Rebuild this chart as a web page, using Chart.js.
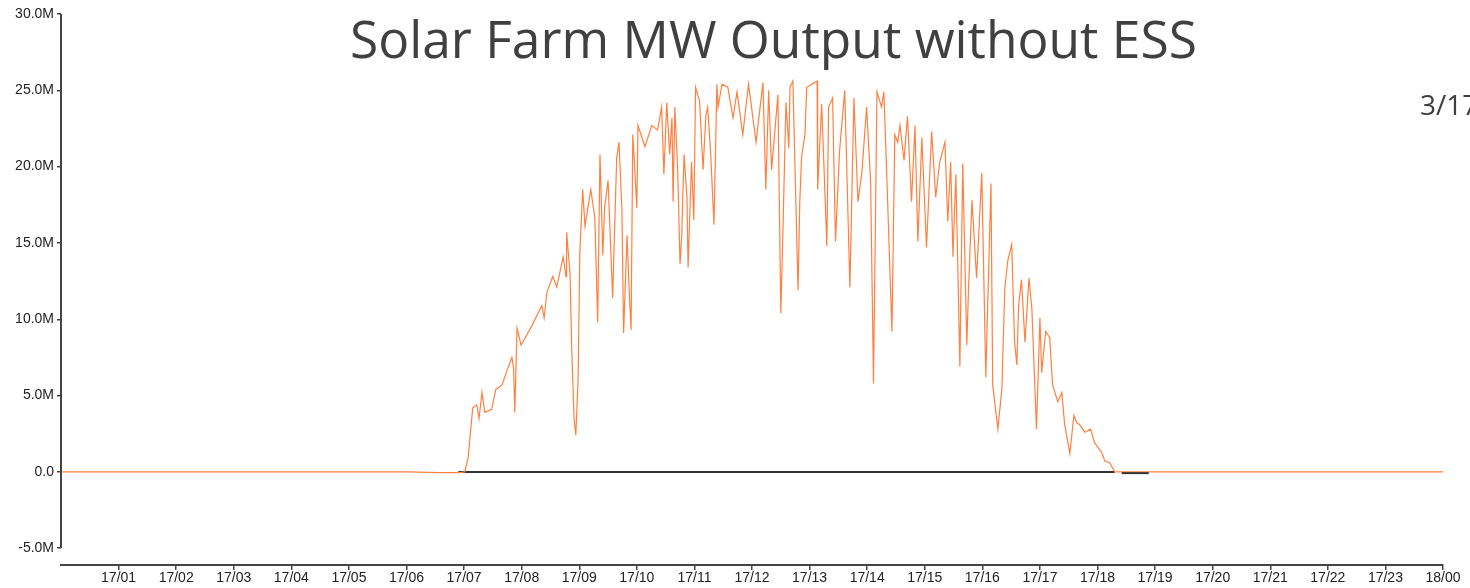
<!DOCTYPE html>
<html>
<head>
<meta charset="utf-8">
<script src="https://cdn.jsdelivr.net/npm/chart.js@4"></script>
<style>
  body { margin: 0; overflow: hidden; background: #fff; }
  #wrap { position: relative; width: 1470px; height: 588px; }
  .slideText { position: absolute; font-family: "Open Sans", sans-serif; color: #404040; white-space: nowrap; line-height: 1; }
  #title { left: 350px; top: 13px; font-size: 51.5px; }
  #date { left: 1420px; top: 90px; font-size: 28px; }
</style>
</head>
<body>
<div id="wrap">
  <canvas id="chart" width="1470" height="588"></canvas>
  <div id="title" class="slideText">Solar Farm MW Output without ESS</div>
  <div id="date" class="slideText">3/17</div>
</div>
<script>
// time of day in hours (17/00 = 0), output in MW (millions)
const hours = [
  0, 6.01, 6.58, 6.93, 7.01, 7.07, 7.15, 7.22, 7.26, 7.31, 7.36, 7.48, 7.55, 7.66, 7.76, 7.83, 7.86, 7.88, 7.92, 7.99,
  8.18, 8.35, 8.39, 8.44, 8.54, 8.61, 8.72, 8.77, 8.78, 8.84, 8.87, 8.91, 8.94, 8.98, 9.01, 9.06, 9.10, 9.20, 9.27,
  9.32, 9.36, 9.41, 9.44, 9.50, 9.58, 9.65, 9.69, 9.74, 9.77, 9.83, 9.86, 9.90, 9.93, 10.00, 10.02, 10.14, 10.26,
  10.36, 10.43, 10.47, 10.52, 10.57, 10.61, 10.63, 10.66, 10.71, 10.75, 10.78, 10.82, 10.87, 10.89, 10.95, 10.99,
  11.02, 11.09, 11.15, 11.20, 11.23, 11.28, 11.34, 11.39, 11.41, 11.48, 11.58, 11.67, 11.74, 11.84, 11.94, 12.07,
  12.19, 12.24, 12.29, 12.34, 12.45, 12.50, 12.53, 12.59, 12.64, 12.66, 12.71, 12.80, 12.83, 12.86, 12.92, 12.95,
  13.13, 13.14, 13.21, 13.30, 13.33, 13.40, 13.45, 13.52, 13.61, 13.70, 13.77, 13.84, 13.91, 13.99, 14.06, 14.11,
  14.17, 14.25, 14.29, 14.34, 14.43, 14.48, 14.53, 14.57, 14.64, 14.70, 14.77, 14.83, 14.88, 14.95, 15.03, 15.12,
  15.19, 15.26, 15.35, 15.40, 15.45, 15.49, 15.54, 15.61, 15.66, 15.73, 15.76, 15.82, 15.90, 15.99, 16.06, 16.15,
  16.18, 16.27, 16.34, 16.39, 16.44, 16.51, 16.56, 16.60, 16.63, 16.68, 16.74, 16.81, 16.86, 16.94, 17.00, 17.03,
  17.10, 17.17, 17.22, 17.31, 17.38, 17.43, 17.52, 17.59, 17.64, 17.69, 17.78, 17.88, 17.95, 18.07, 18.13, 18.21,
  18.30, 18.42, 24
];
const outputMW = [
  0, 0, -0.05, -0.05, 0, 0.9, 4.2, 4.4, 3.5, 5.2, 3.9, 4.1, 5.4, 5.7, 6.8, 7.5, 6.8, 3.9, 9.4, 8.3,
  9.6, 10.9, 10.1, 11.8, 12.8, 12.1, 14.1, 12.8, 15.7, 13.0, 8.0, 3.5, 2.4, 6.0, 14.3, 18.5, 16.1, 18.5, 16.7,
  9.8, 20.8, 14.2, 17.3, 19.1, 11.4, 20.6, 21.6, 17.3, 9.1, 15.5, 12.5, 9.3, 22.1, 17.3, 22.7, 21.3, 22.7,
  22.4, 23.9, 19.5, 24.2, 20.8, 23.2, 17.7, 23.9, 19.7, 13.6, 15.5, 20.8, 18.0, 13.4, 20.3, 16.5,
  25.2, 24.3, 19.8, 23.4, 23.9, 21.0, 16.2, 25.4, 23.9, 25.4, 25.2, 23.2, 24.9, 22.1, 25.4, 21.6,
  25.5, 18.5, 25.0, 19.8, 24.7, 10.4, 14.7, 24.2, 21.2, 25.2, 25.6, 11.9, 17.7, 20.6, 22.1, 25.2,
  25.6, 18.5, 24.1, 14.8, 23.9, 24.5, 15.1, 21.0, 25.0, 12.1, 24.5, 17.7, 19.7, 23.9, 19.0, 5.8,
  24.9, 23.9, 24.9, 19.5, 9.2, 22.1, 21.6, 22.7, 20.4, 23.3, 17.7, 22.7, 15.1, 21.9, 14.7, 22.3,
  18.0, 20.3, 21.6, 16.4, 20.3, 14.1, 19.5, 6.9, 20.2, 8.3, 12.0, 17.8, 12.7, 19.6, 6.2, 18.9,
  5.7, 2.8, 5.5, 12.0, 13.8, 14.9, 8.5, 7.0, 10.9, 12.6, 8.5, 12.7, 10.7, 2.8, 10.1, 6.5,
  9.2, 8.8, 5.7, 4.6, 5.2, 3.1, 1.2, 3.7, 3.2, 3.1, 2.6, 2.8, 1.9, 1.3, 0.7, 0.6,
  0, 0, 0
];
// dark baseline pieces along zero
const baseHours = [6.9, 18.30];
const baseMW = [0, 0];
const tailHours = [18.42, 18.89];
const tailMW = [-0.08, -0.08];

const xTickValues = [1, 2, 3, 4, 5, 6, 7, 8, 9, 10, 11, 12, 13, 14, 15, 16, 17, 18, 19, 20, 21, 22, 23, 24];
const xTickLabels = ['17/01', '17/02', '17/03', '17/04', '17/05', '17/06', '17/07', '17/08', '17/09', '17/10', '17/11', '17/12',
  '17/13', '17/14', '17/15', '17/16', '17/17', '17/18', '17/19', '17/20', '17/21', '17/22', '17/23', '18/00'];
const yTickValues = [-5, 0, 5, 10, 15, 20, 25, 30];
const yTickLabels = ['-5.0M', '0.0', '5.0M', '10.0M', '15.0M', '20.0M', '25.0M', '30.0M'];

const toPoints = (xs, ys) => xs.map((x, i) => ({ x: x, y: ys[i] }));

// y axis line only runs between the first and last tick
const axisLines = {
  id: 'axisLines',
  afterDraw(chart) {
    const { ctx, chartArea, scales } = chart;
    const y = scales.y;
    ctx.save();
    ctx.strokeStyle = '#444';
    ctx.lineWidth = 2;
    ctx.beginPath();
    ctx.moveTo(chartArea.left, y.getPixelForValue(yTickValues[yTickValues.length - 1]));
    ctx.lineTo(chartArea.left, y.getPixelForValue(yTickValues[0]));
    ctx.stroke();
    ctx.restore();
  }
};

const tickFont = { family: '"Liberation Sans", Arial, sans-serif', size: 14 };

new Chart(document.getElementById('chart').getContext('2d'), {
  type: 'line',
  data: {
    datasets: [
      {
        label: 'Zero',
        data: toPoints(baseHours, baseMW),
        borderColor: '#333',
        borderWidth: 2,
        pointRadius: 0,
        order: 2
      },
      {
        label: 'Solar Farm MW',
        data: toPoints(hours, outputMW),
        borderColor: 'rgb(255, 128, 64)',
        borderWidth: 1.2,
        pointRadius: 0,
        tension: 0,
        order: 1
      },
      {
        label: 'Tail',
        data: toPoints(tailHours, tailMW),
        borderColor: '#333',
        borderWidth: 2,
        pointRadius: 0,
        order: 0
      }
    ]
  },
  options: {
    responsive: false,
    animation: false,
    devicePixelRatio: 1,
    layout: { padding: { top: 14, right: 27, left: 0, bottom: 0 } },
    plugins: {
      legend: { display: false },
      tooltip: { enabled: false }
    },
    scales: {
      x: {
        type: 'linear',
        min: 0,
        max: 24,
        afterBuildTicks: scale => { scale.ticks = xTickValues.map(v => ({ value: v })); },
        afterFit: scale => { scale.height = 23; },
        ticks: {
          autoSkip: false,
          maxRotation: 0,
          padding: 0,
          color: '#222',
          font: tickFont,
          callback: (v, i) => xTickLabels[i]
        },
        grid: { drawOnChartArea: false, tickLength: 5, color: '#444', lineWidth: 1.5 },
        border: { display: true, color: '#444', width: 2 }
      },
      y: {
        min: -6.1,
        max: 30,
        afterBuildTicks: scale => { scale.ticks = yTickValues.map(v => ({ value: v })); },
        afterFit: scale => { scale.width = 61; },
        ticks: {
          padding: 3,
          color: '#222',
          font: tickFont,
          callback: (v, i) => yTickLabels[i]
        },
        grid: { drawOnChartArea: false, tickLength: 4, color: '#444', lineWidth: 1.5 },
        border: { display: false }
      }
    }
  },
  plugins: [axisLines]
});
</script>
</body>
</html>
